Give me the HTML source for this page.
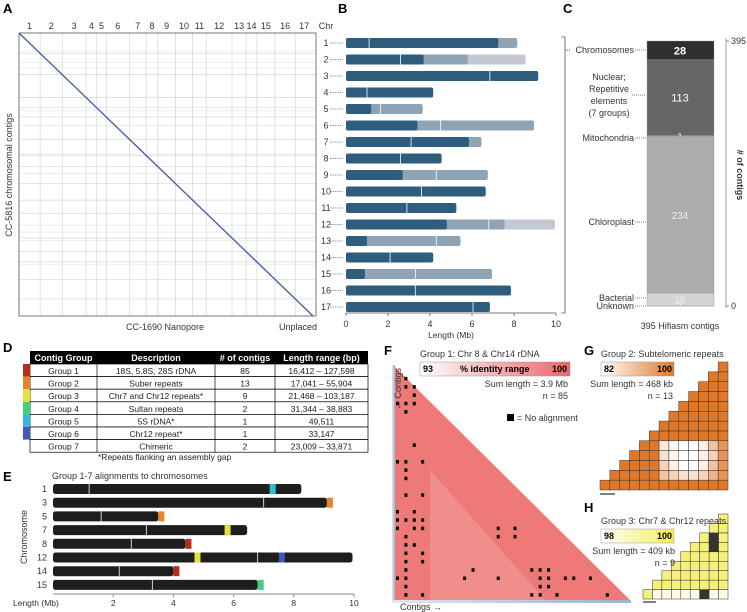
<!DOCTYPE html>
<html><head><meta charset="utf-8"><style>
body{margin:0;background:#fff}
svg{display:block;font-family:"Liberation Sans",Arial,sans-serif}
</style></head><body>
<svg id="fig" width="747" height="612" viewBox="0 0 747 612" xmlns="http://www.w3.org/2000/svg">
<g id="A"></g>
<g id="B"></g>
<g id="C"></g>
<g id="D"></g>
<g id="E"></g>
<g id="F"></g>
<g id="G"></g>
<g id="H"></g>
</svg>
<script>
// ---- data ----
const chrNames=['1','2','3','4','5','6','7','8','9','10','11','12','13','14','15','16','17'];
const darkEnd=[7.25,3.7,9.15,4.15,1.2,3.4,5.85,4.55,2.7,6.65,5.25,4.8,1.0,4.15,0.9,7.85,6.85];
const midEnd=[8.15,5.8,9.15,4.15,3.65,8.95,6.45,4.55,6.75,6.65,5.25,7.55,5.45,4.15,6.95,7.85,6.85];
const lightEnd=[8.15,8.55,9.15,4.15,3.65,8.95,6.45,4.55,6.75,6.65,5.25,9.95,5.45,4.15,6.95,7.85,6.85];
const centro=[1.1,2.6,6.85,1.0,1.65,4.5,3.1,2.6,4.3,3.6,2.9,6.8,4.3,2.1,3.3,3.3,6.05];
const bTicks=[0,2,4,6,8,10];
const cLabels=['Chromosomes','Nuclear; Repetitive elements (7 groups)','Mitochondria','Chloroplast','Bacterial','Unknown'];
const cValues=[28,113,1,234,18,1];
const cColors=['#2f2f2f','#666','#8a8a8a','#acacac','#d4d4d4','#e8e8e8'];
const dGroups=['Group 1','Group 2','Group 3','Group 4','Group 5','Group 6','Group 7'];
const dDesc=['18S, 5.8S, 28S rDNA','Suber repeats','Chr7 and Chr12 repeats*','Sultan repeats','5S rDNA*','Chr12 repeat*','Chimeric'];
const dCounts=['85','13','9','2','1','1','2'];
const dRanges=['16,412 – 127,598','17,041 – 55,904','21,468 – 103,187','31,344 – 38,883','49,511','33,147','23,009 – 33,871'];
const groupColors=['#b5301c','#e8842c','#e6df3c','#3ed07a','#36b9d8','#4157b8',null];
const eChr=['1','3','5','7','8','12','14','15'];
const eLen=[8.25,9.1,3.5,6.45,4.4,9.95,4.0,6.8];
const eBreak=[1.2,7.0,1.6,3.1,2.6,6.8,2.2,3.3];
const eMarks=[[[7.2,4]],[[9.1,1]],[[3.5,1]],[[5.7,2]],[[4.4,0]],[[4.7,2],[7.5,5]],[[4.0,0]],[[6.8,3]]];
const eTicks=[2,4,6,8,10];
const fDots=[[1,1],[2,1],[2,2],[3,2],[4,0],[4,1],[4,2],[5,1],[9,2],[11,0],[11,1],[11,3],[12,1],[13,1],[15,1],[15,3],[17,0],[17,2],[18,0],[18,1],[18,2],[18,3],[19,0],[19,2],[19,3],[19,12],[19,14],[20,1],[20,12],[20,14],[21,1],[21,2],[22,1],[22,3],[23,1],[23,3],[24,1],[24,9],[24,16],[24,17],[24,18],[25,0],[25,1],[25,8],[25,12],[25,17],[25,18],[25,20],[25,21],[25,23],[26,1],[26,17],[26,18],[27,1],[27,3],[27,16],[27,17],[27,19],[27,25]];
const gVals=[[100,100,100,100,100,100,100,100,100,100,100,100,100],[90,88,86,86,88,92,96,100,100,100,100,100,100],[88,84,82,82,84,90,96,100,100,100,100,100,100],[86,83,82,82,84,88,96,100,100,100,100,100,100],[85,83,82,82,84,90,96,100,100,100,100,100,100]];
const hNoAlign=[[5,7],[6,7],[0,6]];

const NS='http://www.w3.org/2000/svg';
function el(p,t,a,txt){const e=document.createElementNS(NS,t);for(const k in a)e.setAttribute(k,a[k]);if(txt!==undefined)e.textContent=txt;p.appendChild(e);return e;}
function nm(e,n,i){return e;}
const svg=document.getElementById('fig');
function label(x,y,s){const t=el(svg,'text',{x,y,'font-size':13,'font-weight':'bold'},s);}
label(3,13,'A');label(338,13,'B');label(563,13,'C');label(3,352,'D');label(3,481,'E');label(384,355,'F');label(584,355,'G');label(584,512,'H');

// ---- B ----
const B=document.getElementById('B');
const bx=v=>346+v*21;
const rowY=i=>43+i*16.5;
chrNames.forEach((c,i)=>{
 const y=rowY(i);
 const g=el(B,'g',{});
 
 el(g,'rect',{x:bx(0),y:y-5,width:bx(lightEnd[i])-bx(0),height:10,rx:2,fill:'#c3c8d2'});
 el(g,'rect',{x:bx(0),y:y-5,width:bx(midEnd[i])-bx(0),height:10,rx:2,fill:'#8ea3b4'});
 el(g,'rect',{x:bx(0),y:y-5,width:bx(darkEnd[i])-bx(0),height:10,rx:2,fill:'#2e5d7e'});
 el(g,'line',{x1:bx(centro[i]),x2:bx(centro[i]),y1:y-5,y2:y+5,stroke:'#fff','stroke-width':0.8});
 el(g,'line',{x1:330,x2:343,y1:y,y2:y,stroke:'#5a7890','stroke-width':0.7,'stroke-dasharray':'1.5,1'});
});
el(B,'line',{x1:bx(0),x2:bx(10),y1:313,y2:313,stroke:'#777'});
bTicks.forEach(t=>{el(B,'line',{x1:bx(t),x2:bx(t),y1:313,y2:316,stroke:'#777'});
 const tx=el(B,'text',{x:bx(t),y:327,'font-size':9,'text-anchor':'middle',fill:'#333'},t);
 });
nm(el(B,'text',{x:451,y:338,'font-size':8.5,'text-anchor':'middle',fill:'#333'},'Length (Mb)'),'b-x-axis-title');

// ---- A ----
const A=document.getElementById('A');
const total=lightEnd.reduce((a,b)=>a+b,0);
const ax0=19,ax1=313,ay0=33,ay1=316;
const axs=v=>ax0+v/total*(ax1-ax0), ays=v=>ay0+v/total*(ay1-ay0);
let cum=0;
chrNames.forEach((c,i)=>{
 const s=cum;cum+=lightEnd[i];
 if(i>0){el(A,'line',{x1:axs(s),x2:axs(s),y1:ay0,y2:ay1,stroke:'#d6d6d6','stroke-width':0.7});
   el(A,'line',{x1:ax0,x2:316,y1:ays(s),y2:ays(s),stroke:'#d6d6d6','stroke-width':0.7});}
 [darkEnd[i],midEnd[i]].forEach(b=>{if(b<lightEnd[i])el(A,'line',{x1:ax0,x2:316,y1:ays(s+b),y2:ays(s+b),stroke:'#e2e2e2','stroke-width':0.6});});
 nm(el(A,'text',{x:(axs(s)+axs(cum))/2,y:29,'font-size':9,'text-anchor':'middle',fill:'#333'},c),'a-top-chr-label');
 nm(el(A,'text',{x:326,y:rowY(i)+3,'font-size':9,'text-anchor':'middle',fill:'#333'},c),'a-right-chr-label');
});
el(A,'rect',{x:ax0,y:ay0,width:316-ax0,height:ay1-ay0,fill:'none',stroke:'#555','stroke-width':0.8});
nm(el(A,'text',{x:326,y:29,'font-size':9,'text-anchor':'middle',fill:'#333'},'Chr'),'a-chr-header');
nm(el(A,'line',{x1:axs(0),y1:ays(0),x2:axs(total),y2:ays(total),stroke:'#3d5ea8','stroke-width':1.3}),'a-diagonal');
nm(el(A,'text',{x:165,y:330,'font-size':9,'text-anchor':'middle',fill:'#333'},'CC-1690 Nanopore'),'a-x-axis-title');
nm(el(A,'text',{x:298,y:330,'font-size':9,'text-anchor':'middle',fill:'#333'},'Unplaced'),'a-unplaced-label');
nm(el(A,'text',{x:0,y:0,'font-size':9,'text-anchor':'middle',fill:'#333',transform:'translate(12,175) rotate(-90)'},'CC-5816 chromosomal contigs'),'a-y-axis-title');

// ---- C ----
const C=document.getElementById('C');
const cTot=cValues.reduce((a,b)=>a+b,0);
const cy=v=>306-v/cTot*265;
let acc=cTot;
const labYs=[50,95,138,222,298,306];
cValues.forEach((v,i)=>{
 const y0=cy(acc),y1=cy(acc-v);acc-=v;
 nm(el(C,'rect',{x:647,y:y0,width:67,height:Math.max(y1-y0,0.8),fill:cColors[i],stroke:'#999','stroke-width':0.4}),'c-segment-'+i);
 nm(el(C,'text',{x:680,y:(y0+y1)/2+4,'font-size':i<2?11:10,'text-anchor':'middle',fill:i<2?'#fff':'#eee','font-weight':i==0?'bold':'normal'},v),'c-value-label');
 const ly=labYs[i];
 const lines=i==1?['Nuclear;','Repetitive','elements','(7 groups)']:[cLabels[i]];
 lines.forEach((l,k)=>nm(el(C,'text',{x:i==1?609:634,y:ly+(i==1?(k-1.5)*12:0)+3,'font-size':9,'text-anchor':i==1?'middle':'end',fill:'#333'},l),'c-category-label'));
 el(C,'line',{x1:i==1?632:635,x2:646,y1:ly,y2:ly,stroke:'#555','stroke-width':0.8,'stroke-dasharray':'1,1'});
});
el(C,'path',{d:'M561,37 H565 V313 H561',fill:'none',stroke:'#555','stroke-width':0.8});
el(C,'line',{x1:565,x2:570,y1:50,y2:50,stroke:'#555','stroke-dasharray':'1,1'});
el(C,'line',{x1:726,x2:726,y1:38,y2:308,stroke:'#888','stroke-width':0.8});
el(C,'line',{x1:726,x2:729,y1:41,y2:41,stroke:'#888'});el(C,'line',{x1:726,x2:729,y1:306,y2:306,stroke:'#888'});
nm(el(C,'text',{x:731,y:44,'font-size':9,fill:'#333'},'395'),'c-y-tick');
nm(el(C,'text',{x:731,y:309,'font-size':9,fill:'#333'},'0'),'c-y-tick');
nm(el(C,'text',{x:0,y:0,'font-size':9,'text-anchor':'middle',fill:'#333','font-weight':'bold',transform:'translate(737,175) rotate(90)'},'# of contigs'),'c-y-axis-title');
nm(el(C,'text',{x:680,y:329,'font-size':9,'text-anchor':'middle',fill:'#333'},'395 Hifiasm contigs'),'c-x-label');

// ---- D ----
const D=document.getElementById('D');
const cols=[30,97,215,275,368];
el(D,'rect',{x:30,y:351,width:338,height:13,fill:'#000'});
['Contig Group','Description','# of contigs','Length range (bp)'].forEach((h,k)=>nm(el(D,'text',{x:(cols[k]+cols[k+1])/2,y:361,'font-size':9,'font-weight':'bold','text-anchor':'middle',fill:'#fff'},h),'d-header-cell'));
dGroups.forEach((g,i)=>{
 const y=364+i*12.6;
 const row=el(D,'g',{});
 el(row,'rect',{x:30,y,width:338,height:12.6,fill:'#fff',stroke:'#000','stroke-width':0.7});
 for(let k=1;k<4;k++)el(row,'line',{x1:cols[k],x2:cols[k],y1:y,y2:y+12.6,stroke:'#000','stroke-width':0.7});
 if(groupColors[i])el(row,'rect',{x:23,y,width:7,height:12.6,fill:groupColors[i]});
 [g,dDesc[i],dCounts[i],dRanges[i]].forEach((t,k)=>el(row,'text',{x:(cols[k]+cols[k+1])/2,y:y+10,'font-size':8.5,'text-anchor':'middle',fill:'#222'},t));
});
nm(el(D,'text',{x:98,y:460,'font-size':8.5,fill:'#222'},'*Repeats flanking an assembly gap'),'d-footnote');

// ---- E ----
const E=document.getElementById('E');
const ex=v=>53+v*30.1;
nm(el(E,'text',{x:52,y:479,'font-size':9,fill:'#333'},'Group 1-7 alignments to chromosomes'),'e-title');
eChr.forEach((c,i)=>{
 const y=489+i*13.7;
 const g=el(E,'g',{});
 el(g,'rect',{x:ex(0),y:y-5,width:ex(eLen[i])-ex(0),height:10,rx:2.5,fill:'#1e1e1e'});
 el(g,'line',{x1:ex(eBreak[i]),x2:ex(eBreak[i]),y1:y-5,y2:y+5,stroke:'#fff','stroke-width':0.8});
 eMarks[i].forEach(m=>el(g,'rect',{x:ex(m[0]),y:y-5,width:ex(0.2)-ex(0),height:10,fill:groupColors[m[1]]}));
 el(g,'text',{x:47,y:y+3,'font-size':9,'text-anchor':'end',fill:'#333'},c);
});
el(E,'line',{x1:ex(0),x2:ex(10),y1:594,y2:594,stroke:'#888'});
eTicks.forEach(t=>{el(E,'line',{x1:ex(t),x2:ex(t),y1:594,y2:597,stroke:'#888'});nm(el(E,'text',{x:ex(t),y:606,'font-size':8.5,'text-anchor':'middle',fill:'#333'},t),'e-x-tick');});
nm(el(E,'text',{x:13,y:606,'font-size':8.5,fill:'#333'},'Length (Mb)'),'e-x-axis-title');
nm(el(E,'text',{x:0,y:0,'font-size':9,'text-anchor':'middle',fill:'#333',transform:'translate(27,537) rotate(-90)'},'Chromosome'),'e-y-axis-title');

// ---- F ----
const F=document.getElementById('F');
const defs=el(svg,'defs',{});
function grad(id,c1,c2){const g=el(defs,'linearGradient',{id,x1:0,x2:1,y1:0,y2:0});el(g,'stop',{offset:0,'stop-color':c1});el(g,'stop',{offset:1,'stop-color':c2});}
grad('gF','#fff','#e8676a');grad('gG','#fff','#e0782a');grad('gH','#fff','#f2ec5a');grad('gAx','#dfe6f3','#9db0d8');
el(F,'rect',{x:392,y:365,width:3,height:237,fill:'url(#gAx)'});
el(F,'rect',{x:393,y:600,width:238,height:3,fill:'url(#gAx)'});
nm(el(F,'polygon',{points:'395,367 395,600 630,600',fill:'#ee7a78'}),'f-triangle');
el(F,'polygon',{points:'430,470 430,600 545,600',fill:'#f29b98',opacity:0.6});
const n=28,fx=395,fy=367,fc=(630-395)/n,fr=(600-367)/n;
fDots.forEach(d=>{const r=el(F,'rect',{x:fx+d[1]*fc+1,y:fy+d[0]*fr+1.5,width:3,height:3.5,fill:'#000'});});
nm(el(F,'text',{x:420,y:357,'font-size':9,fill:'#333'},'Group 1: Chr 8 & Chr14 rDNA'),'f-title');
el(F,'rect',{x:420,y:362,width:150,height:14,fill:'url(#gF)',stroke:'#999','stroke-width':0.5});
el(F,'text',{x:423,y:372,'font-size':9,'font-weight':'bold'},'93');
el(F,'text',{x:460,y:372,'font-size':9,'font-weight':'bold'},'% identity range');
el(F,'text',{x:567,y:372,'font-size':9,'font-weight':'bold','text-anchor':'end'},'100');
el(F,'text',{x:568,y:387,'font-size':9,'text-anchor':'end',fill:'#333'},'Sum length = 3.9 Mb');
el(F,'text',{x:568,y:399,'font-size':9,'text-anchor':'end',fill:'#333'},'n = 85');
el(F,'rect',{x:507,y:414,width:7,height:7,fill:'#000'});
nm(el(F,'text',{x:517,y:421,'font-size':9,fill:'#333'},'= No alignment'),'f-legend');
nm(el(F,'text',{x:0,y:0,'font-size':9,fill:'#333',transform:'translate(401,410) rotate(-90)'},'← Contigs'),'f-y-label');
nm(el(F,'text',{x:400,y:610,'font-size':9,fill:'#333'},'Contigs →'),'f-x-label');

// ---- G / H ----
function stair(P,n,x0,y1,x1,colorFn,pre){
 const cs=(x1-x0)/n;
 for(let c=0;c<n;c++)for(let r=0;r<=c;r++){
  const x=x0+c*cs,y=y1-(r+1)*cs;
  const e=el(P,'rect',{x,y,width:cs,height:cs,fill:colorFn(r,c),stroke:'#333','stroke-width':0.5});
  
 }
}
const G=document.getElementById('G');
function mixO(v){const t=(v-82)/18;const r=Math.round(255+(224-255)*t),g=Math.round(255+(120-255)*t),b=Math.round(255+(42-255)*t);return `rgb(${r},${g},${b})`;}
stair(G,13,600,490,728,(r,c)=>{if(r<gVals.length&&c>=6){return mixO(gVals[r][c-6]);}return mixO(100);},'g');
nm(el(G,'text',{x:601,y:357,'font-size':9,fill:'#333'},'Group 2: Subtelomeric repeats'),'g-title');
el(G,'rect',{x:601,y:362,width:73,height:14,fill:'url(#gG)',stroke:'#999','stroke-width':0.5});
el(G,'text',{x:604,y:372,'font-size':9,'font-weight':'bold'},'82');
el(G,'text',{x:672,y:372,'font-size':9,'font-weight':'bold','text-anchor':'end'},'100');
el(G,'text',{x:673,y:387,'font-size':9,'text-anchor':'end',fill:'#333'},'Sum length = 468 kb');
el(G,'text',{x:673,y:399,'font-size':9,'text-anchor':'end',fill:'#333'},'n = 13');
el(G,'line',{x1:600,x2:615,y1:494,y2:494,stroke:'#000'});

const H=document.getElementById('H');
stair(H,9,643,599,728,(r,c)=>{for(const q of hNoAlign)if(q[0]==r&&q[1]==c)return '#333';return (r==0&&c>0)?'#fffbe8':'#f5f07a';},'h');
nm(el(H,'text',{x:601,y:524,'font-size':9,fill:'#333'},'Group 3: Chr7 & Chr12 repeats'),'h-title');
el(H,'rect',{x:601,y:529,width:73,height:14,fill:'url(#gH)',stroke:'#999','stroke-width':0.5});
el(H,'text',{x:604,y:539,'font-size':9,'font-weight':'bold'},'98');
el(H,'text',{x:672,y:539,'font-size':9,'font-weight':'bold','text-anchor':'end'},'100');
el(H,'text',{x:675,y:554,'font-size':9,'text-anchor':'end',fill:'#333'},'Sum length = 409 kb');
el(H,'text',{x:675,y:566,'font-size':9,'text-anchor':'end',fill:'#333'},'n = 9');
el(H,'line',{x1:643,x2:656,y1:602,y2:602,stroke:'#000'});
</script>
</body></html>
